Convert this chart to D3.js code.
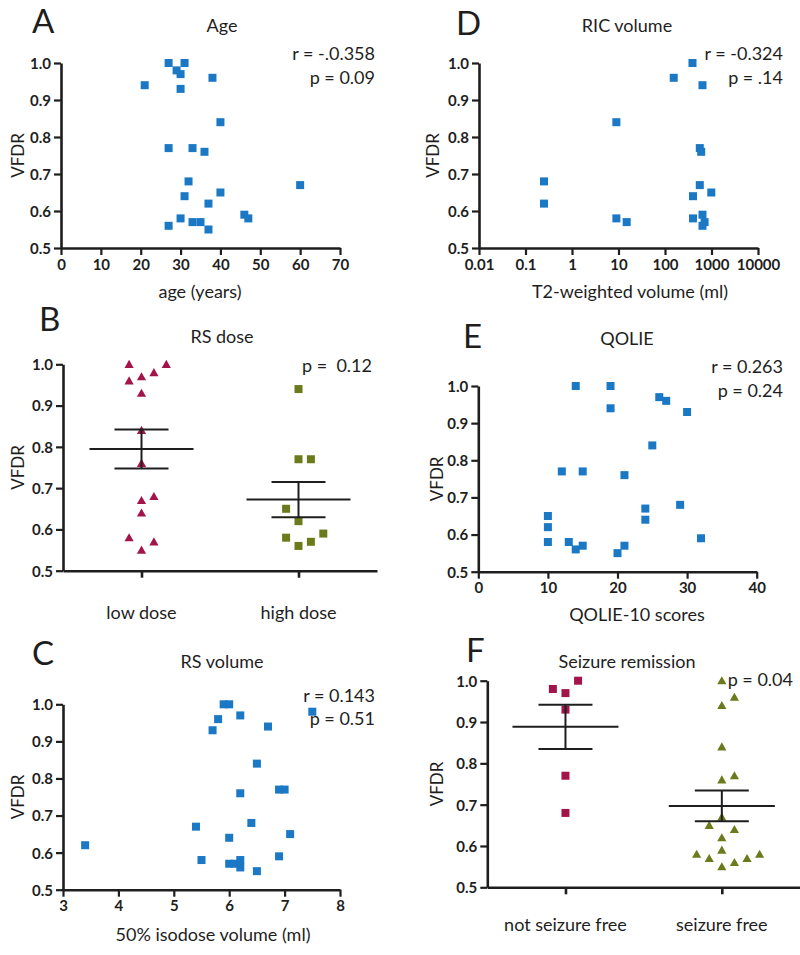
<!DOCTYPE html>
<html><head><meta charset="utf-8">
<script src="https://cdn.jsdelivr.net/npm/d3@7"></script>
<style>
body{margin:0;background:#fff;}
svg text{font-family:Lato,"Open Sans",sans-serif;fill:#1e1e1e;}
</style></head>
<body><svg id="c" width="800" height="955"></svg>
<script>
// ---------- DATA ----------
const yTicks = [0.5, 0.6, 0.7, 0.8, 0.9, 1.0];

// A: Age
const ageX = [27,31,29,30,38,21,30,40,27,33,36,32,60,40,31,37,46,47,30,33,35,27,37];
const ageY = [1.00,1.00,0.98,0.97,0.96,0.94,0.93,0.84,0.77,0.77,0.76,0.68,0.67,0.65,0.64,0.62,0.59,0.58,0.58,0.57,0.57,0.56,0.55];
const ageTicks = [0,10,20,30,40,50,60,70];

// D: RIC volume (log x)
const ricX = [0.25,0.25,9,9,15,154,390,640,560,600,560,990,400,400,640,710,640];
const ricY = [0.68,0.62,0.84,0.58,0.57,0.96,1.00,0.94,0.77,0.76,0.67,0.65,0.64,0.58,0.59,0.57,0.56];
const ricTicks = [0.01,0.1,1,10,100,1000,10000];
const ricTickLabels = ["0.01","0.1","1","10","100","1000","10000"];

// C: RS volume
const rsvX = [5.9,6.0,5.8,6.2,5.7,6.7,7.5,6.5,6.9,7.0,6.2,5.4,6.4,7.1,6.0,3.4,5.5,6.0,6.1,6.2,6.2,6.9,6.5];
const rsvY = [1.00,1.00,0.96,0.97,0.93,0.94,0.98,0.84,0.77,0.77,0.76,0.67,0.68,0.65,0.64,0.62,0.58,0.57,0.57,0.58,0.56,0.59,0.55];
const rsvTicks = [3,4,5,6,7,8];

// E: QOLIE
const qolX = [14,19,19,26,27,30,25,12,15,21,29,24,24,10,10,10,13,14,15,20,21,32];
const qolY = [1.00,1.00,0.94,0.97,0.96,0.93,0.84,0.77,0.77,0.76,0.68,0.67,0.64,0.65,0.62,0.58,0.58,0.56,0.57,0.55,0.57,0.59];
const qolTicks = [0,10,20,30,40];

// B: RS dose (column scatter)
const doseCats = ["low dose","high dose"];
const lowDose = [1.00,1.00,0.96,0.97,0.98,0.93,0.84,0.76,0.67,0.68,0.64,0.58,0.57,0.55];
const lowDoseSlot = [-1,2,-1,0,1,0,0,0,0,1,0,-1,1,0];
const highDose = [0.94,0.77,0.77,0.65,0.62,0.58,0.56,0.57,0.59];
const highDoseSlot = [0,0,1,-1,0,-1,0,1,2];

// F: Seizure remission
const remCats = ["not seizure free","seizure free"];
const notFree = [0.98,1.00,0.97,0.93,0.77,0.68];
const notFreeSlot = [-1,1,0,0,0,0];
const free = [1.00,0.96,0.94,0.84,0.76,0.77,0.67,0.65,0.64,0.62,0.58,0.57,0.59,0.55,0.56,0.57,0.58];
const freeSlot = [0,1,0,0,0,1,0,-1,1,0,-2,-1,0,0,1,2,3];

// ---------- STYLE ----------
const BLUE = "#1a78c4", MAROON = "#a3144b", OLIVE = "#6b7b1c", INK = "#1e1e1e";
const svg = d3.select("#c");

function styleAxis(g){
  g.select(".domain").attr("stroke", INK).attr("stroke-width", 2.6);
  g.selectAll(".tick line").attr("stroke", INK).attr("stroke-width", 2.2);
  g.selectAll(".tick text").attr("fill", INK).style("font-size","15px").style("font-weight","bold")
    .style("font-family","Lato, sans-serif");
}

function panelFrame(p){
  const g = svg.append("g");
  const y = d3.scaleLinear().domain([0.5,1.0]).range([p.y0, p.y1]);
  g.append("text").attr("x", p.letterX).attr("y", p.letterY).text(p.letter)
    .style("font-size","33px");
  g.append("text").attr("x", p.titleX).attr("y", p.titleY).attr("text-anchor","middle")
    .text(p.title).style("font-size","18px");
  p.stats.forEach((s,i)=>{
    g.append("text").attr("x", p.statX).attr("y", p.statY[i]).attr("text-anchor","end")
      .style("font-size","18px").style("white-space","pre").attr("xml:space","preserve").text(s);
  });
  g.append("text").attr("transform",`translate(${p.vfdrX},${(p.y0+p.y1)/2}) rotate(-90)`)
    .attr("text-anchor","middle").attr("dy","0.35em").text("VFDR").style("font-size","17px");
  const ya = g.append("g").attr("transform",`translate(${p.axisX},0)`)
    .call(d3.axisLeft(y).tickValues(yTicks).tickFormat(d3.format(".1f")).tickSize(7).tickSizeOuter(0).tickPadding(3));
  styleAxis(ya);
  ya.selectAll(".tick text").attr("dy","0.36em");
  return {g, y};
}

function squares(g, xs, ys, color){
  g.append("g").selectAll("rect").data(xs.map((d,i)=>[d,ys[i]])).join("rect")
    .attr("x", d=>d[0]-4).attr("y", d=>d[1]-4).attr("width",8).attr("height",8).attr("fill",color);
}
function triangles(g, xs, ys, color){
  g.append("g").selectAll("path").data(xs.map((d,i)=>[d,ys[i]])).join("path")
    .attr("d", d=>`M${d[0]},${d[1]-4.5}L${d[0]+4.6},${d[1]+3.6}L${d[0]-4.6},${d[1]+3.6}Z`).attr("fill",color);
}

function scatterPanel(p){
  const {g, y} = panelFrame(p);
  const x = p.xScale;
  const xa = g.append("g").attr("transform",`translate(0,${p.y0})`)
    .call(d3.axisBottom(x).tickValues(p.xTicks).tickFormat((d,i)=>p.xLabels? p.xLabels[i] : d).tickSize(7).tickSizeOuter(0).tickPadding(4));
  styleAxis(xa);
  g.append("text").attr("x", p.xLabelX).attr("y", p.xLabelY).attr("text-anchor","middle")
    .text(p.xLabel).style("font-size","18px");
  squares(g, p.xs.map(v=>x(v)), p.ys.map(v=>y(v)), BLUE);
  return g;
}

function meanSem(arr){
  const m = d3.mean(arr), s = d3.deviation(arr)/Math.sqrt(arr.length);
  return [m, m-s, m+s];
}

function columnPanel(p){
  const {g, y} = panelFrame(p);
  const x = d3.scalePoint().domain(p.cats).range([p.axisX, p.xEnd]).padding(p.pad);
  const xa = g.append("g").attr("transform",`translate(0,${p.y0})`)
    .call(d3.axisBottom(x).tickSize(7).tickSizeOuter(0).tickFormat(""));
  styleAxis(xa);
  xa.selectAll(".tick line").attr("stroke-width",2.6);
  p.cats.forEach(c=>{
    g.append("text").attr("x", x(c)).attr("y", p.catY).attr("text-anchor","middle")
      .text(c).style("font-size","18px");
  });
  p.groups.forEach((grp,gi)=>{
    const cx = x(p.cats[gi]);
    const xs = grp.vals.map((v,i)=>cx + grp.slots[i]*p.slotW);
    const ys = grp.vals.map(v=>y(v));
    if (grp.shape==="tri") triangles(g, xs, ys, grp.color); else squares(g, xs, ys, grp.color);
    const [m, lo, hi] = meanSem(grp.vals);
    const lg = g.append("g").attr("stroke", INK).attr("stroke-width", 2);
    lg.append("line").attr("x1", cx-p.meanHalf).attr("x2", cx+p.meanHalf).attr("y1", y(m)).attr("y2", y(m));
    lg.append("line").attr("x1", cx-p.capHalf).attr("x2", cx+p.capHalf).attr("y1", y(lo)).attr("y2", y(lo));
    lg.append("line").attr("x1", cx-p.capHalf).attr("x2", cx+p.capHalf).attr("y1", y(hi)).attr("y2", y(hi));
    lg.append("line").attr("x1", cx).attr("x2", cx).attr("y1", y(lo)).attr("y2", y(hi));
  });
}

// A
scatterPanel({letter:"A", letterX:32, letterY:33, title:"Age", titleX:222, titleY:32,
  stats:["r = -.0.358","p = 0.09"], statX:375, statY:[60,84], vfdrX:18,
  axisX:61, y0:248, y1:63, xScale:d3.scaleLinear().domain([0,70]).range([61,340]),
  xTicks:ageTicks, xLabel:"age (years)", xLabelX:200, xLabelY:298, xs:ageX, ys:ageY});

// D
scatterPanel({letter:"D", letterX:456, letterY:35, title:"RIC volume", titleX:627, titleY:32,
  stats:["r = -0.324","p = .14"], statX:783, statY:[60,84], vfdrX:433,
  axisX:479, y0:248, y1:63, xScale:d3.scaleLog().domain([0.01,10000]).range([479,758]),
  xTicks:ricTicks, xLabels:ricTickLabels, xLabel:"T2-weighted volume (ml)", xLabelX:630, xLabelY:298, xs:ricX, ys:ricY});

// C
scatterPanel({letter:"C", letterX:32, letterY:665, title:"RS volume", titleX:222, titleY:668,
  stats:["r = 0.143","p = 0.51"], statX:375, statY:[702,725], vfdrX:18,
  axisX:63, y0:889.7, y1:704.3, xScale:d3.scaleLinear().domain([3,8]).range([63,340]),
  xTicks:rsvTicks, xLabel:"50% isodose volume (ml)", xLabelX:213, xLabelY:941, xs:rsvX, ys:rsvY});

// E
scatterPanel({letter:"E", letterX:463, letterY:348, title:"QOLIE", titleX:627, titleY:345,
  stats:["r = 0.263","p = 0.24"], statX:783, statY:[373,397], vfdrX:437,
  axisX:478.3, y0:571.7, y1:386, xScale:d3.scaleLinear().domain([0,40]).range([478.3,756.7]),
  xTicks:qolTicks, xLabel:"QOLIE-10 scores", xLabelX:637, xLabelY:621, xs:qolX, ys:qolY});

// B
columnPanel({letter:"B", letterX:39, letterY:331, title:"RS dose", titleX:222, titleY:343,
  stats:["p =  0.12"], statX:372, statY:[372], vfdrX:18,
  axisX:63, xEnd:377, pad:0.5, y0:570.7, y1:364.3, cats:doseCats, catY:619,
  slotW:12.4, meanHalf:52, capHalf:27,
  groups:[{vals:lowDose, slots:lowDoseSlot, shape:"tri", color:MAROON},
          {vals:highDose, slots:highDoseSlot, shape:"sq", color:OLIVE}]});

// F
columnPanel({letter:"F", letterX:466, letterY:662, title:"Seizure remission", titleX:627, titleY:668,
  stats:["p = 0.04"], statX:793, statY:[686], vfdrX:437,
  axisX:487.3, xEnd:800, pad:0.5, y0:887.3, y1:680.7, cats:remCats, catY:931,
  slotW:12.6, meanHalf:53, capHalf:27,
  groups:[{vals:notFree, slots:notFreeSlot, shape:"sq", color:MAROON},
          {vals:free, slots:freeSlot, shape:"tri", color:OLIVE}]});
</script></body></html>
